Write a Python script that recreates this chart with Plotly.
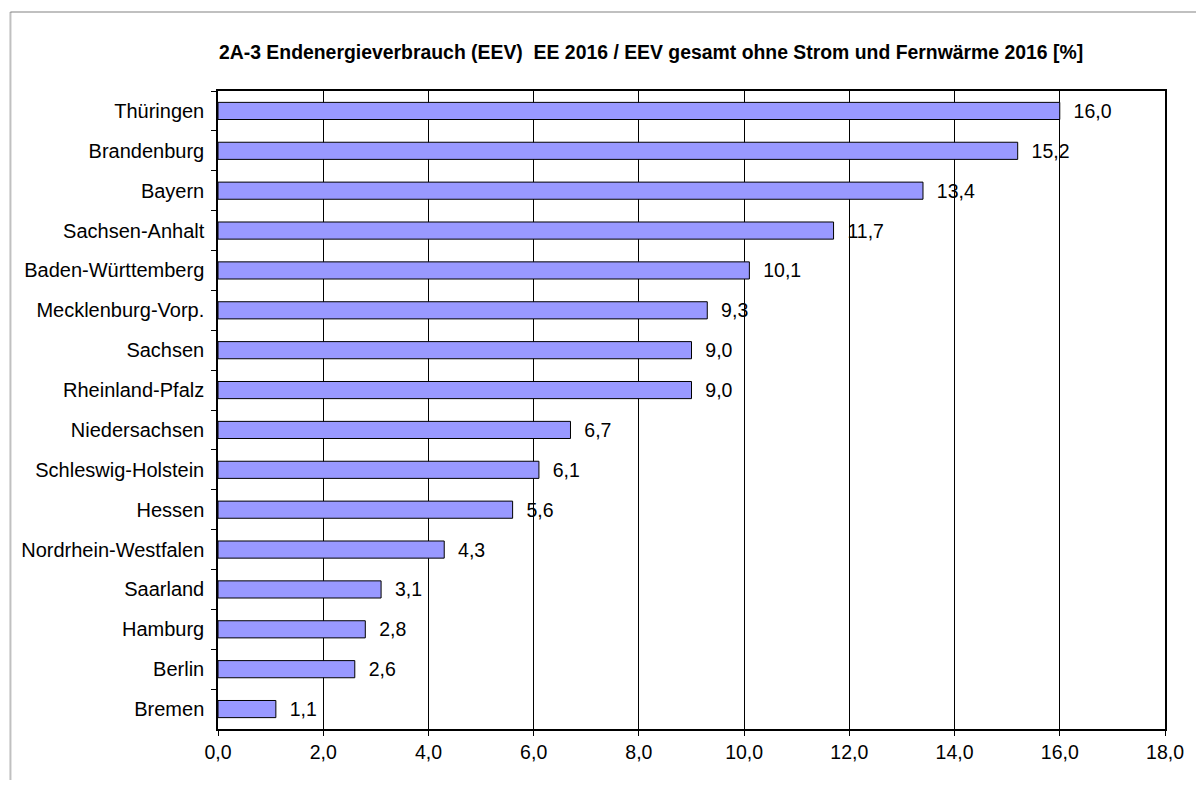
import plotly.graph_objects as go

# Endenergieverbrauch EE-Anteil 2016 je Bundesland [%]
laender = [
    "Thüringen", "Brandenburg", "Bayern", "Sachsen-Anhalt",
    "Baden-Württemberg", "Mecklenburg-Vorp.", "Sachsen", "Rheinland-Pfalz",
    "Niedersachsen", "Schleswig-Holstein", "Hessen", "Nordrhein-Westfalen",
    "Saarland", "Hamburg", "Berlin", "Bremen",
]
anteil = [16.0, 15.2, 13.4, 11.7, 10.1, 9.3, 9.0, 9.0,
          6.7, 6.1, 5.6, 4.3, 3.1, 2.8, 2.6, 1.1]
x_ticks = [0, 2, 4, 6, 8, 10, 12, 14, 16, 18]

title = ("2A-3 Endenergieverbrauch (EEV)\u00a0 EE 2016 / EEV gesamt ohne "
         "Strom und Fernwärme 2016 [%]")

font = "Liberation Sans, Arial, sans-serif"

labels = ["\u00a0\u00a0" + f"{v:.1f}".replace(".", ",") for v in anteil]

# page body adds an 8px margin, keep the figure inside the window
W, H = 1188, 772
left, top, right, bottom = 210, 83, 1159, 721

fig = go.Figure()
fig.add_trace(go.Bar(
    x=anteil,
    y=laender,
    orientation="h",
    marker=dict(color="#9999ff", line=dict(color="black", width=1)),
    text=labels,
    textposition="outside",
    constraintext="none",
    cliponaxis=False,
    textfont=dict(size=19.5, color="black", family=font),
    hoverinfo="x+y",
))

pw = right - left
ph = bottom - top

# outer chart border: only the left and top edges are visible
bx0 = (2 - left) / pw
by1 = (bottom - 4) / ph
border = dict(color="#333333", width=2)

fig.update_layout(
    width=W,
    height=H,
    template="simple_white",
    paper_bgcolor="white",
    plot_bgcolor="white",
    separators=",.",
    font=dict(family=font, size=19.5, color="black"),
    showlegend=False,
    bargap=0.57,
    margin=dict(l=left, r=W - right, t=top, b=H - bottom),
    title=dict(
        text="<b>" + title + "</b>",
        font=dict(size=19.4, color="black", family=font),
        x=(644 - left) / pw, xref="paper", xanchor="center",
        y=1 - 44 / H, yref="container", yanchor="middle",
    ),
    xaxis=dict(
        range=[0, 18],
        tickvals=x_ticks,
        tickformat=".1f",
        showgrid=True,
        gridcolor="black",
        gridwidth=1,
        showline=True,
        linecolor="black",
        linewidth=1.5,
        mirror=True,
        ticks="outside",
        ticklen=5,
        tickcolor="black",
        zeroline=False,
        tickfont=dict(size=19.5),
    ),
    yaxis=dict(
        categoryorder="array",
        categoryarray=laender,
        autorange="reversed",
        showgrid=False,
        showline=True,
        linecolor="black",
        linewidth=1.5,
        mirror=True,
        ticks="outside",
        tickson="boundaries",
        ticklen=5,
        tickcolor="black",
        ticklabelstandoff=8,
        tickfont=dict(size=20),
    ),
    shapes=[
        dict(type="line", xref="paper", yref="paper",
             x0=bx0, x1=bx0, y0=-0.2, y1=by1, line=border),
        dict(type="line", xref="paper", yref="paper",
             x0=bx0, x1=1.05, y0=by1, y1=by1, line=border),
    ],
)

fig.write_html("out.html")
